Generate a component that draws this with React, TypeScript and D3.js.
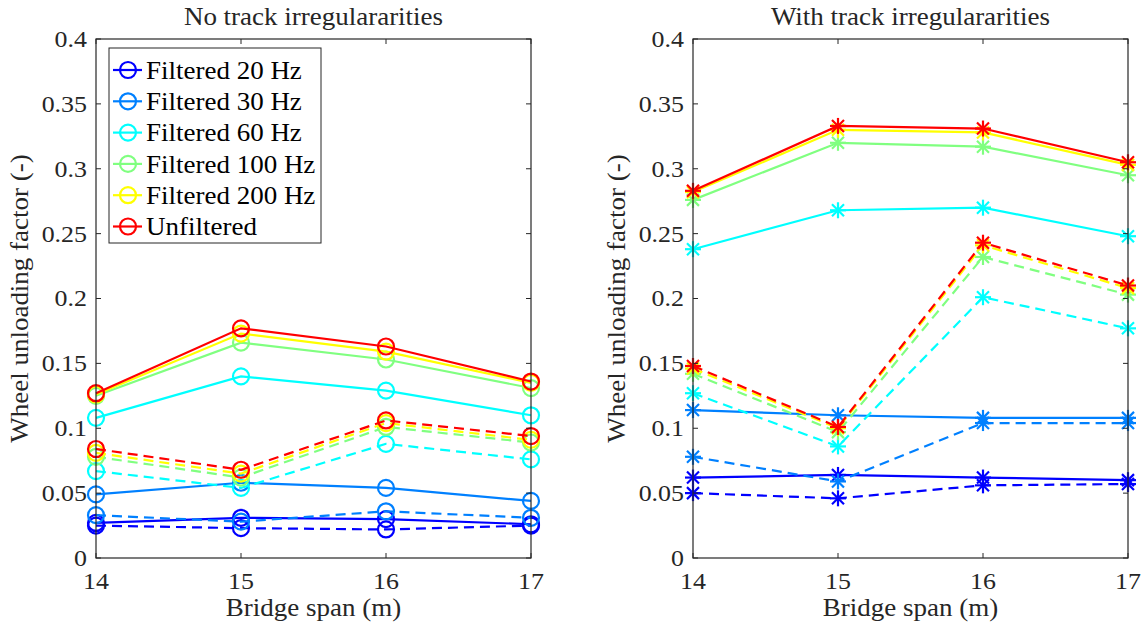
import React from "react";
import * as d3 from "d3";

const spans = [14, 15, 16, 17];
const yTicks = [0, 0.05, 0.1, 0.15, 0.2, 0.25, 0.3, 0.35, 0.4];
const seriesNames = ["Filtered 20 Hz", "Filtered 30 Hz", "Filtered 60 Hz", "Filtered 100 Hz", "Filtered 200 Hz", "Unfiltered"];
const seriesColors = ["#0000ff", "#0080ff", "#00ffff", "#80ff80", "#ffff00", "#ff0000"];

// No track irregularities
const noIrrSolid = [
  [0.027, 0.031, 0.030, 0.026],
  [0.049, 0.058, 0.054, 0.044],
  [0.108, 0.140, 0.129, 0.110],
  [0.125, 0.166, 0.153, 0.131],
  [0.126, 0.173, 0.159, 0.135],
  [0.127, 0.177, 0.163, 0.136],
];
const noIrrDashed = [
  [0.025, 0.023, 0.022, 0.025],
  [0.033, 0.028, 0.036, 0.031],
  [0.067, 0.054, 0.088, 0.076],
  [0.078, 0.062, 0.101, 0.089],
  [0.081, 0.065, 0.104, 0.091],
  [0.084, 0.068, 0.106, 0.094],
];
// With track irregularities
const withIrrSolid = [
  [0.062, 0.064, 0.062, 0.060],
  [0.114, 0.110, 0.108, 0.108],
  [0.238, 0.268, 0.270, 0.248],
  [0.276, 0.320, 0.317, 0.295],
  [0.282, 0.330, 0.328, 0.303],
  [0.283, 0.333, 0.331, 0.305],
];
const withIrrDashed = [
  [0.050, 0.046, 0.056, 0.057],
  [0.078, 0.059, 0.104, 0.104],
  [0.127, 0.086, 0.201, 0.177],
  [0.142, 0.097, 0.232, 0.203],
  [0.146, 0.100, 0.241, 0.208],
  [0.148, 0.101, 0.243, 0.210],
];

const FONT = "'Liberation Serif', 'Times New Roman', Times, serif";
const TOP = 39;
const BOTTOM = 558;
const SX = 1.08; // horizontal stretch of the reference text

function T({ x, y, anchor = "start", size, children, fill = "#262626", dy }: any) {
  return (
    <text
      transform={`translate(${x},${y}) scale(${SX},1)`}
      textAnchor={anchor}
      dy={dy}
      style={{ fontFamily: FONT, fontSize: size }}
      fill={fill}
    >
      {children}
    </text>
  );
}

function Marker({ kind, x, y, color }: { kind: string; x: number; y: number; color: string }) {
  if (kind === "circle") {
    return <circle cx={x} cy={y} r={8} fill="none" stroke={color} strokeWidth={2.2} />;
  }
  const s = 8;
  const d = s * 0.75;
  return (
    <g stroke={color} strokeWidth={2.2}>
      <line x1={x - s} y1={y} x2={x + s} y2={y} />
      <line x1={x} y1={y - s} x2={x} y2={y + s} />
      <line x1={x - d} y1={y - d} x2={x + d} y2={y + d} />
      <line x1={x - d} y1={y + d} x2={x + d} y2={y - d} />
    </g>
  );
}

function Panel({ left, right, title, solid, dashed, marker, legend }: any) {
  const x = d3.scaleLinear().domain([14, 17]).range([left, right]);
  const y = d3.scaleLinear().domain([0, 0.4]).range([BOTTOM, TOP]);
  const line = d3
    .line<number>()
    .x((_, i) => x(spans[i]))
    .y((v) => y(v));
  const tl = 5;
  return (
    <g>
      <T x={(left + right) / 2} y={25} anchor="middle" size={25}>{title}</T>
      {seriesNames.map((name, k) => (
        <g key={name}>
          <path d={line(solid[k]) || ""} fill="none" stroke={seriesColors[k]} strokeWidth={2.2} />
          {solid[k].map((v: number, i: number) => (
            <Marker key={"s" + i} kind={marker} x={x(spans[i])} y={y(v)} color={seriesColors[k]} />
          ))}
          <path d={line(dashed[k]) || ""} fill="none" stroke={seriesColors[k]} strokeWidth={2.2} strokeDasharray="10,6" />
          {dashed[k].map((v: number, i: number) => (
            <Marker key={"d" + i} kind={marker} x={x(spans[i])} y={y(v)} color={seriesColors[k]} />
          ))}
        </g>
      ))}
      <rect x={left} y={TOP} width={right - left} height={BOTTOM - TOP} fill="none" stroke="#262626" strokeWidth={1.2} />
      {spans.map((s) => (
        <g key={s}>
          <line x1={x(s)} x2={x(s)} y1={BOTTOM} y2={BOTTOM - tl} stroke="#262626" />
          <line x1={x(s)} x2={x(s)} y1={TOP} y2={TOP + tl} stroke="#262626" />
          <T x={x(s)} y={589} anchor="middle" size={24}>{s}</T>
        </g>
      ))}
      {yTicks.map((t) => (
        <g key={t}>
          <line x1={left} x2={left + tl} y1={y(t)} y2={y(t)} stroke="#262626" />
          <line x1={right} x2={right - tl} y1={y(t)} y2={y(t)} stroke="#262626" />
          <T x={left - 9} y={y(t)} dy="0.33em" anchor="end" size={24}>{d3.format("")(t)}</T>
        </g>
      ))}
      <T x={(left + right) / 2} y={616} anchor="middle" size={25}>Bridge span (m)</T>
      <text
        transform={`translate(${left - 68},${(TOP + BOTTOM) / 2}) rotate(-90) scale(${SX},1)`}
        textAnchor="middle"
        style={{ fontFamily: FONT, fontSize: 25 }}
        fill="#262626"
      >
        Wheel unloading factor (-)
      </text>
      {legend && (
        <g>
          <rect x={left + 13} y={48} width={212} height={195} fill="#fff" stroke="#262626" strokeWidth={1} />
          {seriesNames.map((name, k) => {
            const ly = 70 + k * 31.3;
            return (
              <g key={name}>
                <line x1={left + 17} x2={left + 46} y1={ly} y2={ly} stroke={seriesColors[k]} strokeWidth={2.2} />
                <Marker kind="circle" x={left + 32} y={ly} color={seriesColors[k]} />
                <T x={left + 50} y={ly} dy="0.35em" size={25} fill="#000">{name}</T>
              </g>
            );
          })}
        </g>
      )}
    </g>
  );
}

export default function App() {
  return (
    <svg
      width={1143}
      height={629}
      style={{ position: "absolute", left: 0, top: 0, background: "#fff" }}
    >
      <rect width={1143} height={629} fill="#fff" />
      <Panel left={96} right={531} title="No track irregulararities" solid={noIrrSolid} dashed={noIrrDashed} marker="circle" legend />
      <Panel left={693} right={1128} title="With track irregulararities" solid={withIrrSolid} dashed={withIrrDashed} marker="star" legend={false} />
    </svg>
  );
}
